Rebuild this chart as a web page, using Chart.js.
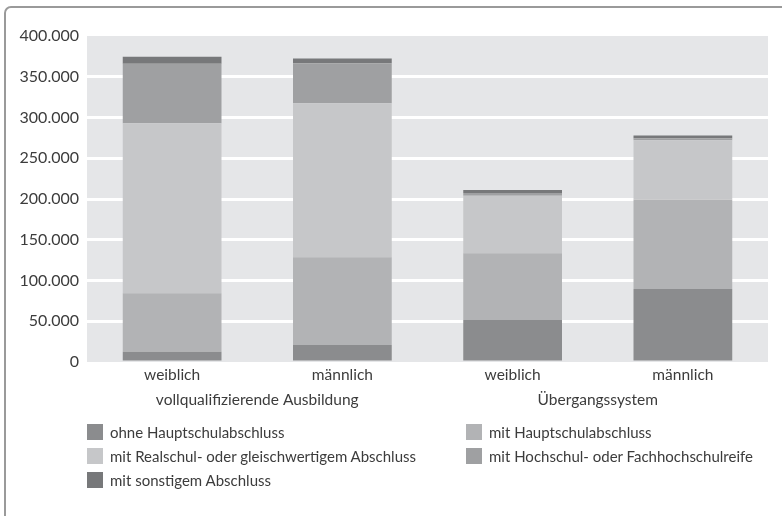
<!DOCTYPE html>
<html>
<head>
<meta charset="utf-8">
<script src="https://cdn.jsdelivr.net/npm/chart.js@4.4.0/dist/chart.umd.min.js"></script>
<style>
  html, body { margin: 0; padding: 0; background: #fff; width: 782px; height: 516px; overflow: hidden; }
  #wrap { position: relative; width: 782px; height: 516px; }
  #frame { position: absolute; left: 4px; top: 6px; width: 900px; height: 600px; border: 2px solid #9a9a9a; border-radius: 7px; box-sizing: border-box; }
  canvas { position: absolute; left: 0; top: 0; }
  .lg { position: absolute; font-family: Lato, 'Liberation Sans', sans-serif; font-size: 15px; color: #3c3c3c; white-space: nowrap; line-height: 16px; }
  .lg .box { position: absolute; left: 0; top: 0; width: 16px; height: 16px; }
  .lg .txt { position: absolute; left: 23px; top: 0px; }
</style>
</head>
<body>
<div id="wrap">
  <div id="frame"></div>
  <canvas id="c" width="782" height="516"></canvas>
  <div id="legend"></div>
</div>
<script>
const categories = ['weiblich', 'männlich', 'weiblich', 'männlich'];
const groups = ['vollqualifizierende Ausbildung', 'Übergangssystem'];
const seriesNames = [
  'ohne Hauptschulabschluss',
  'mit Hauptschulabschluss',
  'mit Realschul- oder gleischwertigem Abschluss',
  'mit Hochschul- oder Fachhochschulreife',
  'mit sonstigem Abschluss'
];
const ohneHauptschulabschluss = [12500, 21000, 51500, 89500];
const mitHauptschulabschluss = [72000, 107500, 82000, 109500];
const mitRealschulabschluss = [208500, 189000, 70500, 73000];
const mitHochschulreife = [73000, 49000, 3500, 2500];
const mitSonstigemAbschluss = [8500, 6000, 3500, 3500];
const yTickValues = [0, 50000, 100000, 150000, 200000, 250000, 300000, 350000, 400000];
const seriesColors = ['#8b8c8e', '#b2b3b5', '#c6c7c9', '#9fa0a2', '#77787a'];

const seriesValues = [ohneHauptschulabschluss, mitHauptschulabschluss, mitRealschulabschluss, mitHochschulreife, mitSonstigemAbschluss];

function fmt(v) {
  return String(v).replace(/\B(?=(\d{3})+(?!\d))/g, '.');
}

const FONT = { family: "Lato, 'Liberation Sans', sans-serif", size: 16 };
const XFONT = { family: "Lato, 'Liberation Sans', sans-serif", size: 15.5 };
const TXT = '#3c3c3c';

const bgPlugin = {
  id: 'plotBg',
  beforeDraw(chart) {
    const a = chart.chartArea;
    const ctx = chart.ctx;
    ctx.save();
    ctx.fillStyle = '#e5e6e8';
    ctx.fillRect(a.left, a.top, a.right - a.left, a.bottom - a.top);
    ctx.restore();
  }
};

const chart = new Chart(document.getElementById('c'), {
  type: 'bar',
  data: {
    labels: categories,
    datasets: seriesNames.map((name, i) => ({
      label: name,
      data: seriesValues[i],
      backgroundColor: seriesColors[i],
      borderWidth: 0,
      categoryPercentage: 1,
      barPercentage: 0.58,
      xAxisID: 'x'
    }))
  },
  options: {
    responsive: false,
    animation: false,
    devicePixelRatio: 1,
    layout: { padding: { top: 36, right: 14, bottom: 104, left: 0 } },
    plugins: { legend: { display: false }, tooltip: { enabled: false } },
    scales: {
      x: {
        stacked: true,
        position: 'bottom',
        grid: { display: false, drawTicks: false },
        border: { display: false },
        ticks: { font: XFONT, color: TXT, padding: 4, maxRotation: 0 },
        afterFit(s) { s.height = 25; }
      },
      x2: {
        type: 'category',
        labels: groups,
        offset: true,
        position: 'bottom',
        grid: { display: false, drawTicks: false },
        border: { display: false },
        ticks: { font: XFONT, color: TXT, padding: 4, maxRotation: 0 },
        afterFit(s) { s.height = 25; }
      },
      y: {
        stacked: true,
        min: 0,
        max: 400000,
        afterBuildTicks(s) { s.ticks = yTickValues.map(v => ({ value: v })); },
        ticks: { font: FONT, color: TXT, padding: 8, callback: v => fmt(v) },
        grid: {
          drawTicks: false,
          lineWidth: 3,
          color: ctx => (ctx.tick && (ctx.tick.value === 0 || ctx.tick.value === 400000)) ? 'rgba(0,0,0,0)' : '#ffffff'
        },
        border: { display: false },
        afterFit(s) { s.width = 87; }
      }
    }
  },
  plugins: [bgPlugin]
});

// HTML legend in two columns built from the chart's datasets
const legend = document.getElementById('legend');
const colX = [87, 466];
const rowY = [424, 448, 472];
chart.data.datasets.forEach((ds, i) => {
  const d = document.createElement('div');
  d.className = 'lg';
  d.style.left = colX[i % 2] + 'px';
  d.style.top = rowY[Math.floor(i / 2)] + 'px';
  const b = document.createElement('div');
  b.className = 'box';
  b.style.background = ds.backgroundColor;
  const t = document.createElement('div');
  t.className = 'txt';
  t.textContent = ds.label;
  d.appendChild(b); d.appendChild(t);
  legend.appendChild(d);
});
</script>
</body>
</html>
